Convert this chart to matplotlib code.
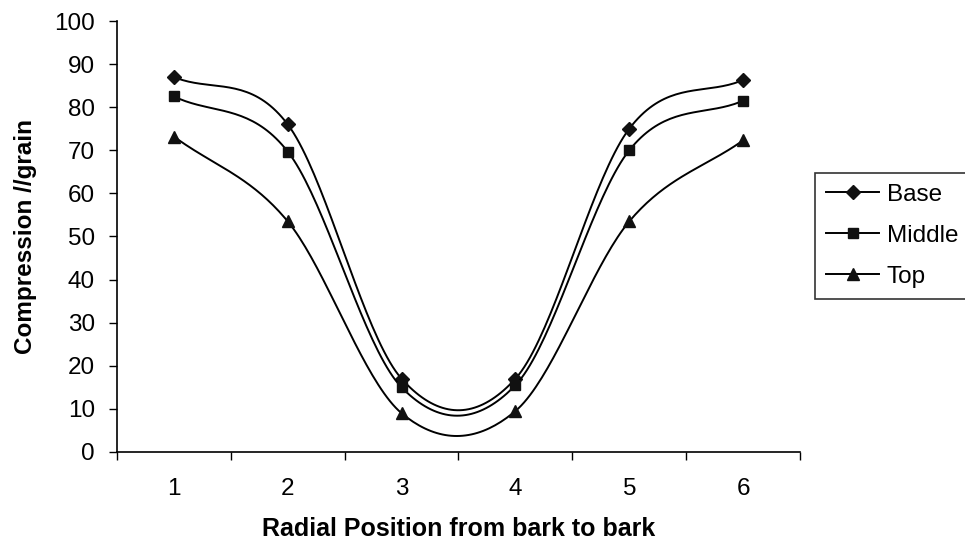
import numpy as np
import matplotlib
matplotlib.use("Agg")
import matplotlib.pyplot as plt
from matplotlib.lines import Line2D

positions = [1, 2, 3, 4, 5, 6]
base = [87, 76, 17, 17, 75, 86.3]
middle = [82.5, 69.7, 15, 15.5, 70, 81.5]
top = [73.2, 53.5, 9, 9.5, 53.5, 72.3]
series_names = ["Base", "Middle", "Top"]
markers = ["D", "s", "^"]
yticks = list(range(0, 101, 10))

plt.rcParams['font.family'] = ['Liberation Sans', 'DejaVu Sans']


def smooth(x, y, n=40):
    x = np.asarray(x, float)
    y = np.asarray(y, float)
    xs, ys = [], []
    m = len(x)
    for i in range(m - 1):
        y0 = y[i - 1] if i > 0 else y[i]
        y3 = y[i + 2] if i + 2 < m else y[i + 1]
        y1, y2 = y[i], y[i + 1]
        t0 = (y2 - y0) / 2 if i > 0 else (y2 - y1)
        t1 = (y3 - y1) / 2 if i + 2 < m else (y2 - y1)
        t = np.linspace(0, 1, n)
        h00 = 2 * t**3 - 3 * t**2 + 1
        h10 = t**3 - 2 * t**2 + t
        h01 = -2 * t**3 + 3 * t**2
        h11 = t**3 - t**2
        xs.append(x[i] + t * (x[i + 1] - x[i]))
        ys.append(h00 * y1 + h10 * t0 + h01 * y2 + h11 * t1)
    return np.concatenate(xs), np.concatenate(ys)


fig = plt.figure(figsize=(9.65, 5.44), dpi=100)
ax = fig.add_axes([117 / 965, 1 - 452 / 544, (800 - 117) / 965, (452 - 21) / 544])

handles = []
for data, name, mk in zip([base, middle, top], series_names, markers):
    sx, sy = smooth(positions, data)
    ax.plot(sx, sy, color='black', lw=1.4)
    ms = 7 if mk == 'D' else 7.5 if mk == 's' else 8.5
    ax.plot(positions, data, linestyle='none', marker=mk, color='#111111', ms=ms)
    handles.append(Line2D([], [], color='black', lw=1.4, marker=mk, ms=ms,
                          markerfacecolor='#111111', markeredgecolor='#111111', label=name))

ax.set_xlim(0.5, 6.5)
ax.set_ylim(0, 100)
ax.set_yticks(yticks)
ax.set_xticks(np.arange(0.5, 7, 1))
ax.set_xticklabels([])
ax.set_xticks(positions, minor=True)
ax.set_xticklabels([str(p) for p in positions], minor=True)
ax.tick_params(axis='x', which='minor', length=0, labelsize=17.5, pad=19)
ax.tick_params(axis='x', which='major', length=6, width=1, direction='out')
ax.tick_params(axis='y', length=6, width=1, direction='out', labelsize=17.5, pad=10)
for s in ['top', 'right']:
    ax.spines[s].set_visible(False)
for s in ['left', 'bottom']:
    ax.spines[s].set_linewidth(1.2)

ax.set_xlabel("Radial Position from bark to bark", fontsize=18, fontweight='bold', labelpad=12)
ax.set_ylabel("Compression //grain", fontsize=17.5, fontweight='bold', labelpad=12)

leg = fig.legend(handles=handles, loc='upper left', bbox_to_anchor=(815 / 965, 1 - 173 / 544),
                 frameon=True, fancybox=False, edgecolor='black', fontsize=17.5,
                 handlelength=2.2, labelspacing=0.78, borderpad=0.45, handletextpad=0.3,
                 borderaxespad=0)
leg.get_frame().set_linewidth(1.2)

fig.savefig("out.png", dpi=100)
